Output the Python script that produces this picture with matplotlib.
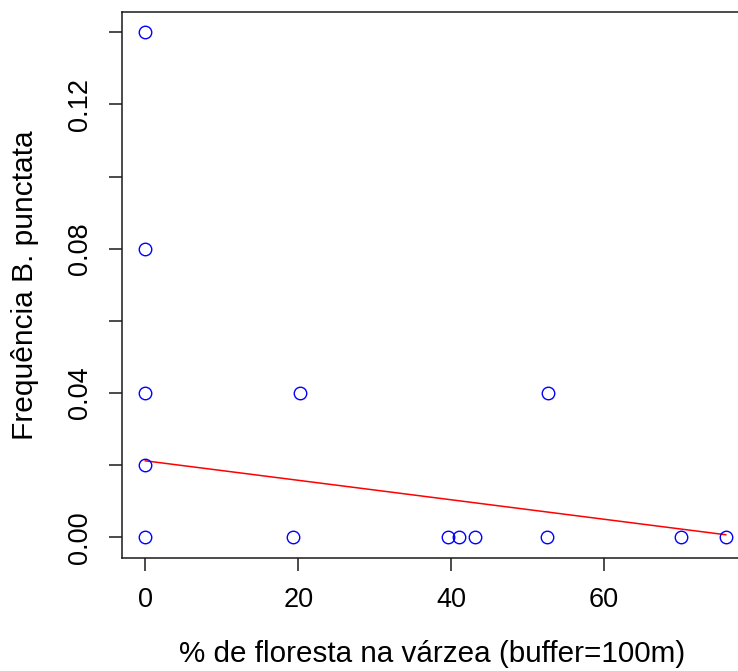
import matplotlib
matplotlib.use("Agg")
import matplotlib.pyplot as plt
import numpy as np

plt.rcParams['font.family'] = ['Liberation Sans', 'DejaVu Sans']

# % forest cover in the floodplain buffer and frequency of B. punctata
floresta = [0.0, 0.0, 0.0, 0.0, 0.0, 20.2, 52.6, 19.3, 39.6, 41.0, 43.1, 52.5, 70.1, 75.9]
frequencia = [0.14, 0.08, 0.04, 0.02, 0.00, 0.04, 0.04, 0.00, 0.00, 0.00, 0.00, 0.00, 0.00, 0.00]

# fitted trend line
fit_intercept = 0.0212
fit_slope = -0.00027

x_ticks = [0, 20, 40, 60]
y_ticks = [0.00, 0.02, 0.04, 0.06, 0.08, 0.10, 0.12, 0.14]
y_labels = ["0.00", "", "0.04", "", "0.08", "", "0.12", ""]

W, H = 738, 671
fig = plt.figure(figsize=(W / 100, H / 100), dpi=100)
ax = fig.add_axes([122 / W, 1 - 557.5 / H, 627 / W, (557.5 - 12) / H])

x = np.array(floresta)
y = np.array(frequencia)
ax.plot(x, y, linestyle='none', marker='o', markersize=9.0, markerfacecolor='none',
        markeredgecolor='#0000ff', markeredgewidth=1.0, clip_on=False, zorder=3)

xl = np.array([x.min(), x.max()])
ax.plot(xl, fit_intercept + fit_slope * xl, color='#ff0000', linewidth=1.1, zorder=2)

xpad = 0.04 * (x.max() - x.min())
ypad = 0.04 * (y.max() - y.min())
ax.set_xlim(x.min() - xpad, x.max() + xpad)
ax.set_ylim(y.min() - ypad, y.max() + ypad)

ax.set_xticks(x_ticks)
ax.set_xticklabels([str(t) for t in x_ticks])
ax.set_yticks(y_ticks)
ax.set_yticklabels(y_labels, rotation=90, va='center')

for s in ax.spines.values():
    s.set_linewidth(1.1)
    s.set_color('#1a1a1a')
ax.tick_params(axis='both', direction='out', length=9.5, width=1.1, color='#1a1a1a',
               labelsize=19.5)
ax.tick_params(axis='x', pad=11.5)
ax.tick_params(axis='y', pad=11.5)

fig.text(432 / W, 1 - 662 / H, '% de floresta na várzea (buffer=100m)', fontsize=21.3,
         ha='center', va='baseline')
fig.text(25 / W, 1 - 285 / H, 'Frequência B. punctata', fontsize=21.5,
         ha='center', va='center', rotation=90)

fig.savefig('out.png', dpi=100)
